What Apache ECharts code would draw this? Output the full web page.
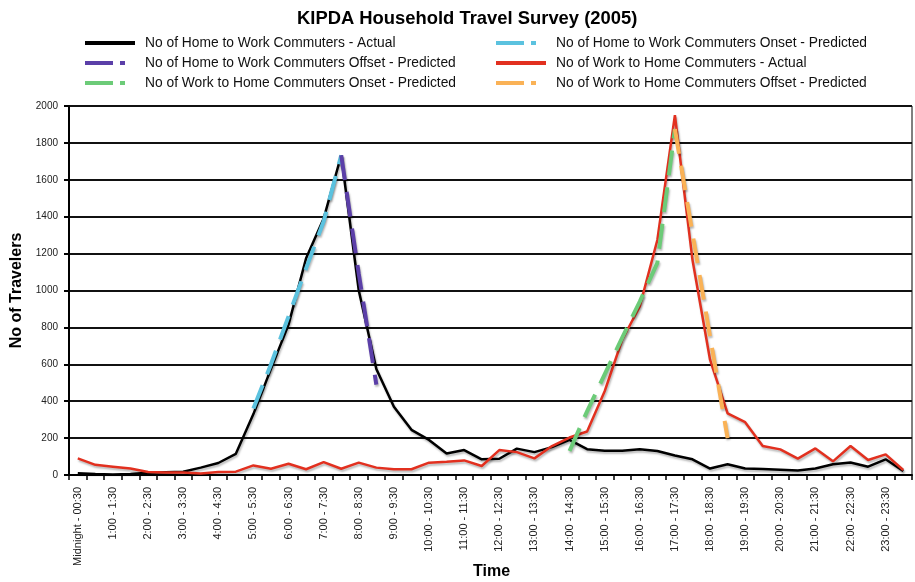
<!DOCTYPE html>
<html><head><meta charset="utf-8">
<script src="https://cdn.jsdelivr.net/npm/echarts@6/dist/echarts.min.js"></script>
<style>html,body{margin:0;padding:0;background:#fff}#c{width:915px;height:582px}</style>
</head><body><div id="c"></div>
<script>
const categories = [
"Midnight - 00:30","0:30 - 1:00","1:00 - 1:30","1:30 - 2:00","2:00 - 2:30","2:30 - 3:00",
"3:00 - 3:30","3:30 - 4:00","4:00 - 4:30","4:30 - 5:00","5:00 - 5:30","5:30 - 6:00",
"6:00 - 6:30","6:30 - 7:00","7:00 - 7:30","7:30 - 8:00","8:00 - 8:30","8:30 - 9:00",
"9:00 - 9:30","9:30 - 10:00","10:00 - 10:30","10:30 - 11:00","11:00 - 11:30","11:30 - 12:00",
"12:00 - 12:30","12:30 - 13:00","13:00 - 13:30","13:30 - 14:00","14:00 - 14:30","14:30 - 15:00",
"15:00 - 15:30","15:30 - 16:00","16:00 - 16:30","16:30 - 17:00","17:00 - 17:30","17:30 - 18:00",
"18:00 - 18:30","18:30 - 19:00","19:00 - 19:30","19:30 - 20:00","20:00 - 20:30","20:30 - 21:00",
"21:00 - 21:30","21:30 - 22:00","22:00 - 22:30","22:30 - 23:00","23:00 - 23:30","23:30 - Midnight"];

const homeToWorkActual = [10,5,3,5,12,15,18,40,65,115,330,575,815,1175,1390,1733,1000,575,370,245,190,117,135,85,88,143,124,151,190,140,131,131,139,130,106,85,35,58,35,32,28,24,35,58,68,45,85,22];
const workToHomeActual = [90,55,45,35,16,13,13,8,16,18,52,34,61,31,70,34,67,40,31,31,67,72,79,49,135,124,90,157,203,236,454,733,914,1274,1950,1166,625,334,286,157,139,89,144,74,157,81,112,27];
const homeToWorkOnsetPred = [null,null,null,null,null,null,null,null,null,null,360,600,860,1120,1375,1733,null,null,null,null,null,null,null,null,null,null,null,null,null,null,null,null,null,null,null,null,null,null,null,null,null,null,null,null,null,null,null,null];
const homeToWorkOffsetPred = [null,null,null,null,null,null,null,null,null,null,null,null,null,null,null,1733,1090,490,null,null,null,null,null,null,null,null,null,null,null,null,null,null,null,null,null,null,null,null,null,null,null,null,null,null,null,null,null,null];
const workToHomeOnsetPred = [null,null,null,null,null,null,null,null,null,null,null,null,null,null,null,null,null,null,null,null,null,null,null,null,null,null,null,null,130,345,545,745,940,1150,1875,null,null,null,null,null,null,null,null,null,null,null,null,null];
const workToHomeOffsetPred = [null,null,null,null,null,null,null,null,null,null,null,null,null,null,null,null,null,null,null,null,null,null,null,null,null,null,null,null,null,null,null,null,null,null,1875,1310,750,200,null,null,null,null,null,null,null,null,null,null];

const seriesNames = [
"No of Home to Work Commuters - Actual",
"No of Home to Work Commuters Onset - Predicted",
"No of Home to Work Commuters Offset - Predicted",
"No of Work to Home Commuters - Actual",
"No of Work to Home Commuters Onset - Predicted",
"No of Work to Home Commuters Offset - Predicted"];
const seriesData = [homeToWorkActual, homeToWorkOnsetPred, homeToWorkOffsetPred, workToHomeActual, workToHomeOnsetPred, workToHomeOffsetPred];
const colors = ['#000000','#5bc2df','#5b3fa8','#e2301f','#6ccb78','#fab256'];
const dashed = [false,true,true,false,true,true];

const FONT = '"Liberation Sans", Arial, sans-serif';
const shadow = {shadowColor:'rgba(0,0,0,0.28)', shadowBlur:2, shadowOffsetX:1, shadowOffsetY:2};

const series = seriesNames.map((n,i)=>({
  name:n, type:'line', data:seriesData[i], symbol:'none', connectNulls:false,
  color:colors[i],
  lineStyle:Object.assign({color:colors[i], width: dashed[i]?4:2.5, type: dashed[i]?[25,12]:'solid', cap:'butt'}, shadow),
  z: 3+i
}));

function legendItem(i){
  return {name:seriesNames[i],
    itemStyle:{color:'transparent', borderColor:'transparent', borderWidth:0, opacity:0},
    lineStyle:{width:4, color:colors[i], type: dashed[i]?[28,7,5,20]:'solid', shadowBlur:0, shadowOffsetX:0, shadowOffsetY:0}};
}
const legendCommon = {orient:'vertical', itemWidth:50, itemHeight:14, itemGap:6, padding:0,
  textStyle:{fontFamily:FONT, fontSize:13.8, color:'#111', padding:[0,0,0,5]}, selectedMode:false};

const chart = echarts.init(document.getElementById('c'), null, {renderer:'canvas'});
chart.setOption({
  animation:false,
  backgroundColor:'#fff',
  title:[
    {text:'KIPDA Household Travel Survey (2005)', left:292, top:5,
     textStyle:{fontFamily:FONT, fontSize:18.4, fontWeight:'bold', color:'#000'}},
    {text:'Time', left:473, top:564, padding:0,
     textStyle:{fontFamily:FONT, fontSize:16, fontWeight:'bold', color:'#000'}}
  ],
  legend:[
    Object.assign({left:83, top:36, data:[legendItem(0), legendItem(2), legendItem(4)]}, legendCommon),
    Object.assign({left:494, top:36, data:[legendItem(1), legendItem(3), legendItem(5)]}, legendCommon)
  ],
  grid:{left:69, right:3, top:106, bottom:107, show:true, borderColor:'#000', borderWidth:1, backgroundColor:'transparent', outerBoundsMode:'none', containLabel:false},
  xAxis:{type:'category', data:categories, boundaryGap:true,
    axisLine:{lineStyle:{color:'#000', width:2}},
    axisTick:{show:true, interval:0, length:5, lineStyle:{color:'#000', width:1.5}},
    axisLabel:{interval:1, rotate:90, fontFamily:FONT, fontSize:11, color:'#222', margin:12},
    splitLine:{show:false}},
  yAxis:{type:'value', min:0, max:2000, interval:200,
    name:'No of Travelers', nameLocation:'middle', nameGap:44, nameMoveOverlap:false,
    nameTextStyle:{fontFamily:FONT, fontSize:16, fontWeight:'bold', color:'#000'},
    axisLine:{show:true, lineStyle:{color:'#000', width:2}},
    axisTick:{show:true, length:5, lineStyle:{color:'#000', width:2}},
    axisLabel:{fontFamily:FONT, fontSize:10, color:'#222', margin:11, formatter:v=>String(v)},
    splitLine:{show:true, lineStyle:{color:'#111', width:2}}},
  series:series
});
</script></body></html>
